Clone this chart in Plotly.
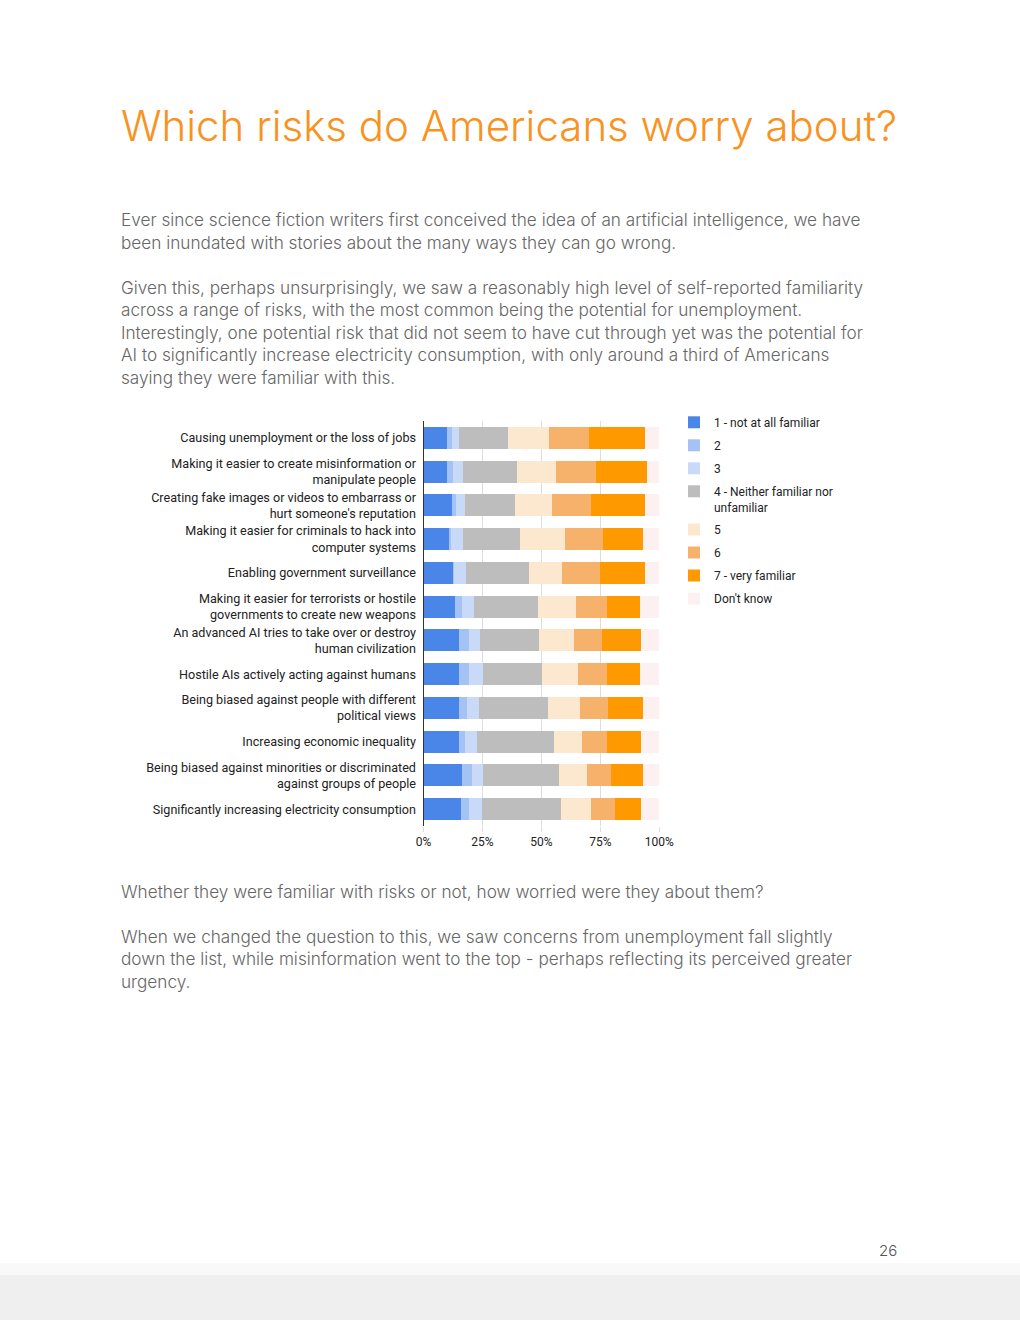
import plotly.graph_objects as go

W, H = 1020, 1320

categories = [
    "Causing unemployment or the loss of jobs",
    "Making it easier to create misinformation or<br>manipulate people",
    "Creating fake images or videos to embarrass or<br>hurt someone's reputation",
    "Making it easier for criminals to hack into<br>computer systems",
    "Enabling government surveillance",
    "Making it easier for terrorists or hostile<br>governments to create new weapons",
    "An advanced AI tries to take over or destroy<br>human civilization",
    "Hostile AIs actively acting against humans",
    "Being biased against people with different<br>political views",
    "Increasing economic inequality",
    "Being biased against minorities or discriminated<br>against groups of people",
    "Significantly increasing electricity consumption",
]

series_names = [
    "1 - not at all familiar",
    "2",
    "3",
    "4 - Neither familiar nor<br>unfamiliar",
    "5",
    "6",
    "7 - very familiar",
    "Don't know",
]

# shares (%) per category, one list per response option
s1 = [10.0, 10.0, 12.0, 10.9, 12.3, 13.3, 15.1, 15.1, 15.1, 15.1, 16.4, 16.0]
s2 = [2.0, 2.7, 1.7, 0.7, 0.8, 3.1, 4.2, 4.2, 3.4, 2.5, 4.0, 3.2]
s3 = [3.1, 4.1, 4.0, 5.2, 4.9, 5.1, 4.7, 5.9, 5.1, 5.1, 4.9, 5.6]
s4 = [20.9, 22.9, 21.2, 24.2, 26.6, 27.1, 25.0, 25.1, 29.1, 32.6, 32.1, 33.3]
s5 = [17.2, 16.5, 15.7, 18.9, 14.0, 16.1, 14.8, 15.4, 13.6, 12.1, 12.0, 12.9]
s6 = [16.9, 17.1, 16.5, 16.2, 16.1, 13.1, 12.1, 12.0, 11.9, 10.6, 10.2, 10.2]
s7 = [23.7, 21.5, 22.9, 16.9, 19.2, 14.0, 16.2, 14.0, 15.0, 14.1, 13.6, 11.0]
s_dk = [6.1, 5.2, 6.1, 6.9, 6.1, 8.2, 7.8, 8.2, 6.9, 7.8, 6.9, 7.8]

series_values = [s1, s2, s3, s4, s5, s6, s7, s_dk]
colors = ["#4a86e8", "#a4c2f4", "#c9daf8", "#bdbdbd", "#fce8cf", "#f6b26b", "#ff9900", "#fdf0f0"]

x_ticks = [0, 0.25, 0.5, 0.75, 1.0]
x_tick_labels = ["0%", "25%", "50%", "75%", "100%"]

title_text = "Which risks do Americans worry about?"
para1 = [
    "Ever since science fiction writers first conceived the idea of an artificial intelligence, we have",
    "been inundated with stories about the many ways they can go wrong.",
]
para2 = [
    "Given this, perhaps unsurprisingly, we saw a reasonably high level of self-reported familiarity",
    "across a range of risks, with the most common being the potential for unemployment.",
    "Interestingly, one potential risk that did not seem to have cut through yet was the potential for",
    "AI to significantly increase electricity consumption, with only around a third of Americans",
    "saying they were familiar with this.",
]
para3 = ["Whether they were familiar with risks or not, how worried were they about them?"]
para4 = [
    "When we changed the question to this, we saw concerns from unemployment fall slightly",
    "down the list, while misinformation went to the top - perhaps reflecting its perceived greater",
    "urgency.",
]
page_number = "26"


def py(p):
    return 1 - p / H


def px(p):
    return p / W


fig = go.Figure()
for i, (name, vals) in enumerate(zip(series_names, series_values)):
    fig.add_trace(go.Bar(
        y=categories,
        x=[v / 100 for v in vals],
        name=name,
        orientation="h",
        marker=dict(color=colors[i], line=dict(width=0)),
        legendgroup=f"g{i}",
    ))

BODY_FONT = dict(family="Inter", size=17.2, color="#666666", weight=300)

annotations = []
annotations.append(dict(
    text=title_text, x=px(119), y=py(125), xref="paper", yref="paper",
    xanchor="left", yanchor="middle", showarrow=False,
    font=dict(family="Inter", size=42, color="#f7931e", weight=300),
))

body_lines = []
for k, t in enumerate(para1):
    body_lines.append((t, 220 + 22.6 * k))
for k, t in enumerate(para2):
    body_lines.append((t, 287 + 22.6 * k))
for k, t in enumerate(para3):
    body_lines.append((t, 891 + 22.6 * k))
for k, t in enumerate(para4):
    body_lines.append((t, 936 + 22.6 * k))
for t, yy in body_lines:
    annotations.append(dict(
        text=t, x=px(119), y=py(yy), xref="paper", yref="paper",
        xanchor="left", yanchor="middle", showarrow=False, font=BODY_FONT,
    ))

annotations.append(dict(
    text=page_number, x=px(899), y=py(1250), xref="paper", yref="paper",
    xanchor="right", yanchor="middle", showarrow=False,
    font=dict(family="Inter", size=15, color="#555555", weight=300),
))

shapes = [
    dict(type="rect", xref="paper", yref="paper", x0=0, x1=1, y0=py(1320), y1=py(1263),
         fillcolor="#f9f9f9", line=dict(width=0), layer="below"),
    dict(type="rect", xref="paper", yref="paper", x0=0, x1=1, y0=py(1320), y1=py(1275),
         fillcolor="#efefef", line=dict(width=0), layer="below"),
]

fig.update_layout(
    width=W, height=H,
    margin=dict(l=0, r=0, t=0, b=0, autoexpand=False),
    paper_bgcolor="white", plot_bgcolor="white",
    barmode="stack", bargap=0.35,
    font=dict(family="Roboto", size=12, color="#222222"),
    showlegend=True,
    legend=dict(
        x=px(674), y=py(408), xanchor="left", yanchor="top",
        traceorder="grouped", tracegroupgap=4, valign="top",
        font=dict(family="Roboto", size=12, color="#222222"),
        bgcolor="rgba(0,0,0,0)", borderwidth=0,
    ),
    xaxis=dict(
        domain=[px(423.5), px(659.3)], range=[0, 1.0], tickvals=x_ticks, ticktext=x_tick_labels,
        showgrid=True, gridcolor="#dddddd", gridwidth=1, zeroline=False,
        ticks="outside", ticklen=5, tickcolor="#dddddd",
        tickfont=dict(family="Roboto", size=12, color="#222222"),
        fixedrange=True, automargin=False,
    ),
    yaxis=dict(
        domain=[py(826), py(421)], autorange="reversed", type="category",
        showline=True, linecolor="#333333", linewidth=1,
        ticks="", ticklabelstandoff=4,
        tickfont=dict(family="Roboto", size=12.6, color="#222222"),
        fixedrange=True, automargin=False,
    ),
    annotations=annotations,
    shapes=shapes,
)

fig.write_html(
    "out.html",
    post_script="document.body.style.margin='0';document.body.style.overflow='hidden';"
    "document.documentElement.style.overflow='hidden';",
)
